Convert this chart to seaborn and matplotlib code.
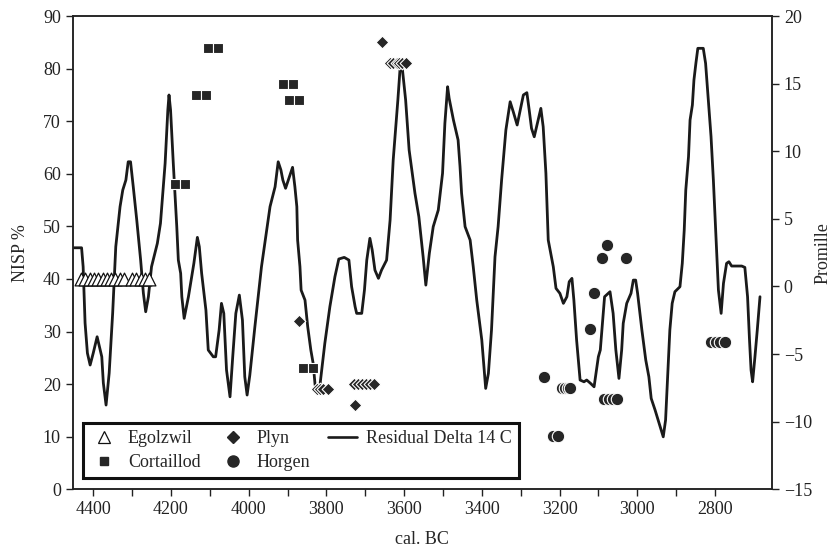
import matplotlib
matplotlib.use("Agg")
import matplotlib.pyplot as plt
from matplotlib.lines import Line2D
import seaborn as sns
import pandas as pd

# residual delta 14C curve (cal. BC, promille)
line_year = [4451, 4430, 4426, 4421, 4415, 4408, 4400, 4390, 4378, 4374, 4367, 4359, 4350, 4342,
             4331, 4324, 4316, 4310, 4304, 4297, 4288, 4278, 4271, 4265, 4258, 4250, 4235, 4227,
             4215, 4208, 4205, 4201, 4194, 4185, 4181, 4175, 4172, 4166, 4155, 4141, 4132, 4127,
             4121, 4110, 4104, 4091, 4085, 4076, 4070, 4064, 4057, 4048, 4041, 4033, 4024, 4016,
             4010, 4004, 3997, 3984, 3967, 3945, 3932, 3924, 3917, 3912, 3905, 3898, 3887, 3881,
             3876, 3874, 3868, 3865, 3855, 3848, 3840, 3834, 3829, 3819, 3812, 3804, 3791, 3778,
             3768, 3754, 3742, 3735, 3726, 3722, 3709, 3702, 3696, 3688, 3682, 3675, 3666, 3658,
             3645, 3636, 3628, 3616, 3610, 3605, 3596, 3587, 3572, 3562, 3551, 3544, 3535, 3525,
             3512, 3501, 3495, 3488, 3484, 3473, 3461, 3456, 3452, 3443, 3430, 3422, 3413, 3400,
             3390, 3383, 3375, 3366, 3358, 3349, 3338, 3327, 3319, 3309, 3302, 3293, 3284, 3278,
             3272, 3265, 3257, 3248, 3242, 3235, 3229, 3216, 3209, 3199, 3190, 3181, 3175, 3168,
             3163, 3156, 3147, 3137, 3130, 3120, 3111, 3100, 3095, 3084, 3070, 3062, 3055, 3047,
             3040, 3036, 3027, 3016, 3010, 3004, 2999, 2988, 2978, 2970, 2964, 2954, 2941, 2933,
             2927, 2921, 2916, 2910, 2903, 2890, 2884, 2879, 2875, 2868, 2864, 2858, 2854, 2849,
             2844, 2830, 2824, 2817, 2810, 2804, 2798, 2791, 2784, 2778, 2770, 2764, 2757, 2731,
             2723, 2716, 2711, 2707, 2703, 2697, 2691, 2684]
line_promille = [2.86, 2.86, 1.46, -2.71, -4.93, -5.81, -4.93, -3.72, -5.20, -7.14, -8.77, -6.41, -1.97, 2.94,
                 5.90, 7.13, 7.87, 9.22, 9.22, 7.37, 4.91, 1.95, -0.49, -1.87, -0.76, 1.46, 3.19, 4.67,
                 9.11, 13.05, 14.16, 13.05, 9.11, 4.42, 1.95, 0.97, -0.76, -2.36, -0.76, 1.71, 3.63, 2.94,
                 0.97, -1.75, -4.70, -5.20, -5.20, -3.22, -1.25, -1.99, -6.18, -8.16, -5.20, -1.99, -0.64, -2.49,
                 -6.68, -8.03, -6.55, -2.98, 1.46, 5.90, 7.37, 9.22, 8.61, 7.87, 7.26, 7.87, 8.81, 7.37,
                 5.90, 3.43, 1.46, -0.27, -1.01, -2.98, -4.70, -5.69, -7.29, -7.91, -6.18, -4.21, -1.50, 0.72,
                 2.03, 2.15, 1.95, -0.02, -1.50, -1.99, -1.99, -0.27, 1.95, 3.56, 2.69, 1.21, 0.60, 1.21,
                 1.95, 4.91, 9.35, 13.79, 16.25, 16.25, 13.79, 10.09, 6.89, 5.16, 2.20, 0.10, 2.45, 4.42,
                 5.65, 8.37, 12.06, 14.77, 13.91, 12.31, 10.83, 8.85, 6.89, 4.42, 3.43, 1.46, -1.01, -3.96,
                 -7.54, -6.43, -3.22, 2.20, 4.42, 7.87, 11.57, 13.66, 12.92, 11.94, 12.92, 14.16, 14.33, 13.05,
                 11.69, 11.07, 12.06, 13.17, 11.81, 8.37, 3.43, 1.46, -0.14, -0.51, -1.25, -0.76, 0.35, 0.60,
                 -1.01, -3.96, -6.92, -7.05, -6.92, -7.17, -7.42, -5.20, -4.70, -0.76, -0.39, -1.99, -4.70, -6.80,
                 -4.70, -2.73, -1.25, -0.51, 0.47, 0.47, -0.51, -3.22, -5.44, -6.68, -8.28, -9.14, -10.38, -11.12,
                 -9.88, -6.18, -3.22, -1.25, -0.39, -0.02, 1.71, 4.17, 7.13, 9.59, 12.31, 13.42, 15.27, 16.50,
                 17.61, 17.61, 16.50, 13.79, 11.07, 7.87, 4.17, -0.27, -1.99, 0.23, 1.71, 1.83, 1.51, 1.51,
                 1.41, -0.76, -3.96, -6.18, -7.05, -5.20, -3.22, -0.76]

# NISP % by culture
egolzwil_year = [4432, 4420, 4409, 4398, 4387, 4376, 4365, 4354, 4343, 4332, 4321, 4300, 4289, 4278, 4267, 4256]
egolzwil_nisp = [40] * 16

cortaillod_year = [4190, 4164, 4136, 4110, 4105, 4079, 3912, 3886, 3896, 3871, 3860, 3834]
cortaillod_nisp = [58, 58, 75, 75, 84, 84, 77, 77, 74, 74, 23, 23]

plyn_year = [3657, 3636, 3628, 3619, 3612, 3605, 3595, 3871, 3824, 3816, 3808, 3795,
             3728, 3718, 3708, 3697, 3687, 3677, 3726]
plyn_nisp = [85, 81, 81, 81, 81, 81, 81, 32, 19, 19, 19, 19, 20, 20, 20, 20, 20, 20, 16]

horgen_year = [3078, 3090, 3030, 3111, 3121, 3239, 3193, 3185, 3179, 3172,
               3085, 3073, 3062, 3051, 3217, 3203, 2810, 2798, 2787, 2774]
horgen_nisp = [46.5, 44, 44, 37.3, 30.5, 21.4, 19.3, 19.3, 19.3, 19.3,
               17.2, 17.2, 17.2, 17.2, 10.2, 10.2, 28, 28, 28, 28]

sns.set_style("ticks")
plt.rcParams["font.family"] = ["Liberation Serif", "DejaVu Serif"]
plt.rcParams["axes.edgecolor"] = "#222222"
plt.rcParams["axes.linewidth"] = 1.1

fig = plt.figure(figsize=(8.35, 5.54), dpi=100)
ax = fig.add_axes([0.087, 0.1168, 0.8376, 0.8543])
ax2 = ax.twinx()

df_line = pd.DataFrame({"year": line_year, "promille": line_promille})
sns.lineplot(x="year", y="promille", data=df_line, ax=ax2, color="#1a1a1a", linewidth=2.0,
             sort=False, estimator=None)

mk = "#262626"
sns.scatterplot(x=egolzwil_year, y=egolzwil_nisp, ax=ax, marker="^", s=85,
                color="white", edgecolor="#111111", linewidth=0.9, zorder=3)
sns.scatterplot(x=cortaillod_year, y=cortaillod_nisp, ax=ax, marker="s", s=55,
                color=mk, edgecolor="white", linewidth=0.8, zorder=3)
sns.scatterplot(x=plyn_year, y=plyn_nisp, ax=ax, marker="D", s=42,
                color=mk, edgecolor="white", linewidth=0.8, zorder=3)
sns.scatterplot(x=horgen_year, y=horgen_nisp, ax=ax, marker="o", s=80,
                color=mk, edgecolor="white", linewidth=0.8, zorder=3)

# markers above the curve
ax.set_zorder(ax2.get_zorder() + 1)
ax.patch.set_visible(False)

ax.set_xlim(4453, 2653)
ax.set_ylim(0, 90)
ax2.set_ylim(-15, 20)
ax.set_xticks(range(4400, 2700, -200))
ax.set_xticks(range(4300, 2700, -200), minor=True)
ax.set_yticks(range(0, 91, 10))
ax2.set_yticks(range(-15, 21, 5))

for a in (ax, ax2):
    a.tick_params(axis="both", which="both", direction="out", labelsize=13, colors="#222222",
                  length=5, width=1)
ax.tick_params(axis="x", which="minor", length=5)
ax2.set_xlabel("")

ax.set_xlabel("cal. BC", fontsize=13, labelpad=9)
ax.set_ylabel("NISP %", fontsize=13, labelpad=10)
ax2.set_ylabel("Promille", fontsize=13, labelpad=2)

handles = [
    Line2D([], [], marker="^", linestyle="none", markersize=8, markerfacecolor="white",
           markeredgecolor="#111111", markeredgewidth=0.9),
    Line2D([], [], marker="s", linestyle="none", markersize=6, color=mk),
    Line2D([], [], marker="D", linestyle="none", markersize=6, color=mk),
    Line2D([], [], marker="o", linestyle="none", markersize=8, color=mk),
    Line2D([], [], color="#1a1a1a", linewidth=1.9),
]
labels = ["Egolzwil", "Cortaillod", "Plyn", "Horgen", "Residual Delta 14 C"]
leg = ax.legend(handles, labels, ncol=3, loc="lower left", bbox_to_anchor=(0.0143, 0.0232),
                borderaxespad=0, frameon=True, fancybox=False, fontsize=13,
                handlelength=1.6, handletextpad=0.5, columnspacing=1.0, labelspacing=0.4,
                borderpad=0.4)
leg.get_frame().set_edgecolor("#111111")
leg.get_frame().set_linewidth(2.2)
leg.get_frame().set_alpha(1)

plt.savefig("out.png", dpi=100)
